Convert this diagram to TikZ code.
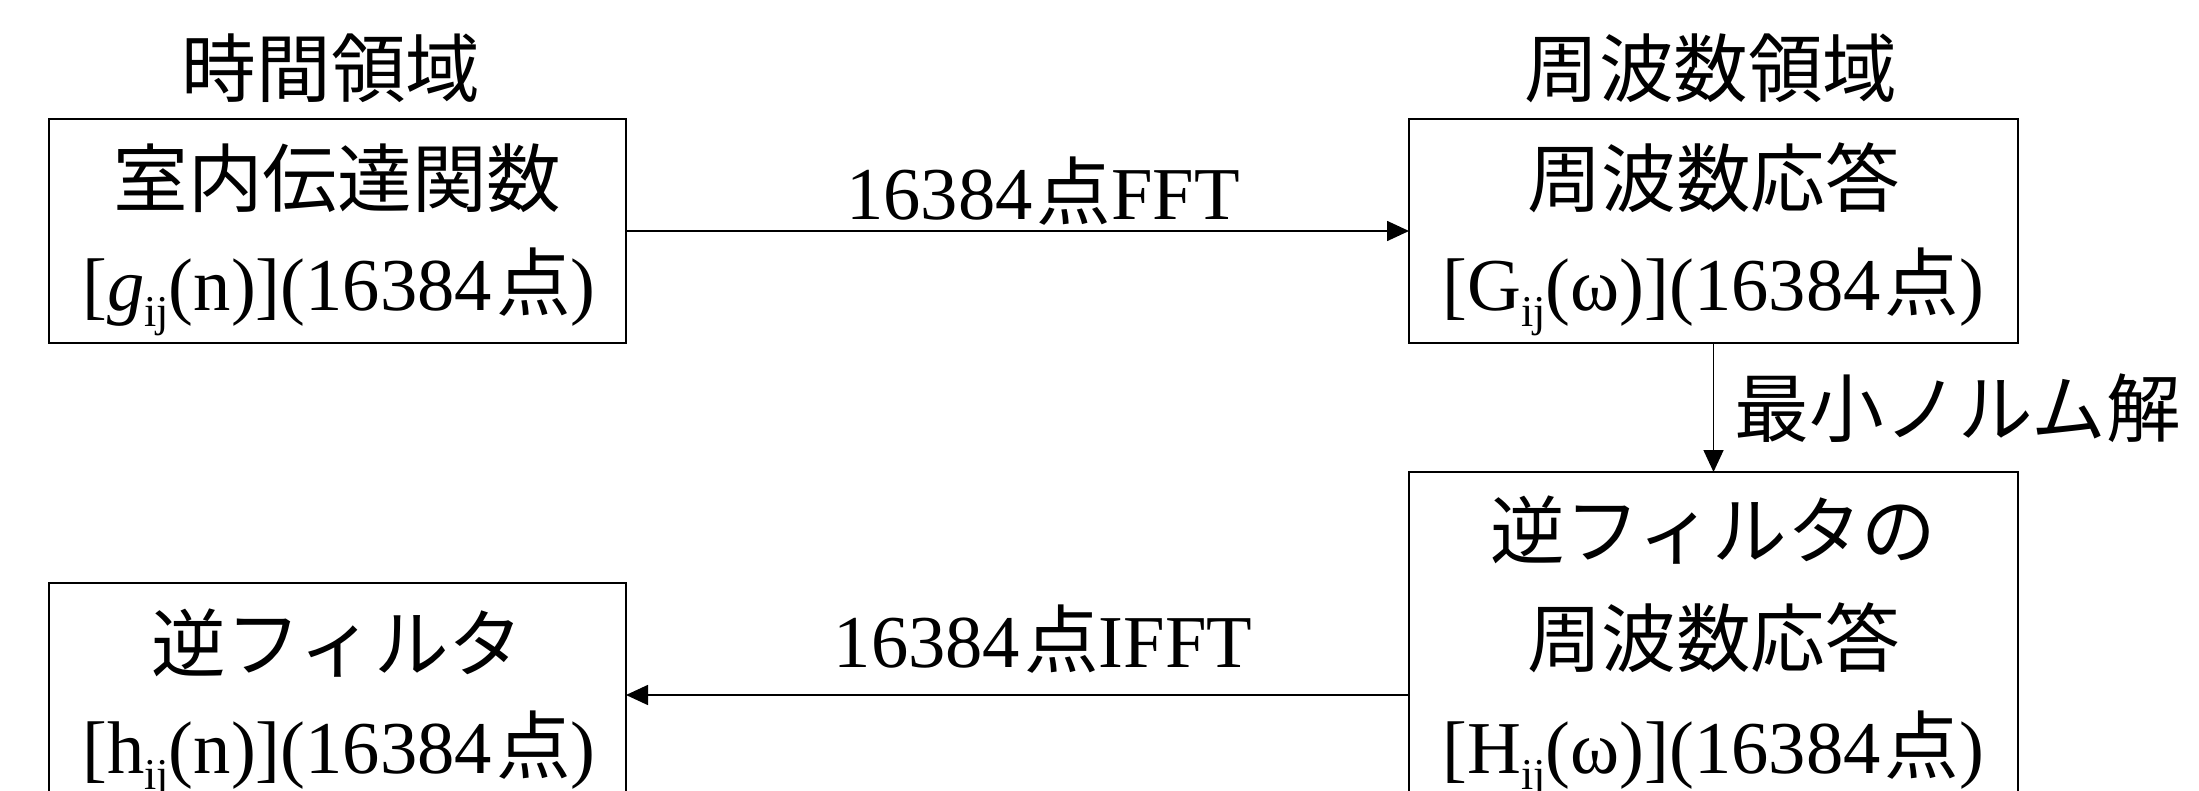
\documentclass[tikz,border=0pt]{standalone}
\usepackage{fontspec}
\setmainfont{Liberation Serif}
\newfontfamily\jp{Noto Sans CJK JP}
\usetikzlibrary{arrows.meta}
\newcommand\J[1]{{\jp #1}}
\newcommand\tenpt{\hspace{2pt}\J{点}}
\newcommand\sbs[1]{\raisebox{-8pt}{\fontsize{22pt}{22pt}\selectfont #1}}
\begin{document}
\begin{tikzpicture}[x=0.5pt,y=-0.5pt,
  box/.style={draw, line width=1pt, inner sep=0pt, outer sep=0pt},
  txt/.style={anchor=base, inner sep=0pt, font=\fontsize{37.3pt}{42pt}\selectfont},
  conn/.style={line width=0.8pt, -{Triangle[length=11pt,width=10pt]}}]
\useasboundingbox (0,0) rectangle (2199,791);
\clip (0,0) rectangle (2199,791);
% boxes
\node[box, minimum width=288.5pt, minimum height=112pt] (b1) at (337.5,231) {};
\node[box, minimum width=304.5pt, minimum height=112pt] (b2) at (1713.5,231) {};
\node[box, minimum width=304.5pt, minimum height=223pt] (b3) at (1713.5,695) {};
\node[box, minimum width=288.5pt, minimum height=112pt] (b4) at (337.5,695) {};
% titles
\node[txt] (t1) at (331,97) {\J{時間領域}};
\node[txt] (t2) at (1711,97) {\J{周波数領域}};
% box 1 text
\node[txt] (b1a) at (337.5,207) {\J{室内伝達関数}};
\node[txt] (b1b) at (339,310) {[{\itshape g}\sbs{ij}(n)](16384\tenpt)};
% box 2 text
\node[txt] (b2a) at (1713.5,207) {\J{周波数応答}};
\node[txt] (b2b) at (1713.5,310) {[G\sbs{ij}(ω)](16384\tenpt)};
% box 3 text
\node[txt] (b3a) at (1713.5,558) {\J{逆フィルタの}};
\node[txt] (b3b) at (1713.5,666) {\J{周波数応答}};
\node[txt] (b3c) at (1713.5,773) {[H\sbs{ij}(ω)](16384\tenpt)};
% box 4 text
\node[txt] (b4a) at (337.5,671) {\J{逆フィルタ}};
\node[txt] (b4b) at (339,773) {[h\sbs{ij}(n)](16384\tenpt)};
% connectors
\draw[conn] (b1.east) -- (b2.west);
\draw[conn] (b2.south) -- (b3.north);
\draw[conn] (b3.west) -- (b4.east);
% connector labels
\node[txt] (l1) at (1043,220) {16384\tenpt FFT};
\node[txt] (l2) at (1958,436) {\J{最小ノルム解}};
\node[txt] (l3) at (1043,667) {16384\tenpt IFFT};
\end{tikzpicture}
\end{document}
